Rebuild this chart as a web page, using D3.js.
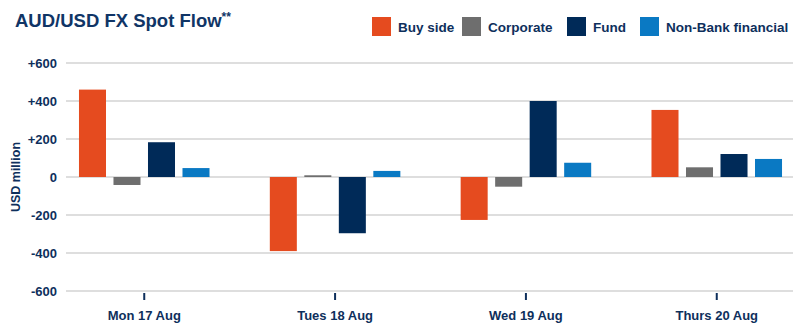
<!DOCTYPE html>
<html>
<head>
<meta charset="utf-8">
<script src="https://cdn.jsdelivr.net/npm/d3@7/dist/d3.min.js"></script>
<style>
  html, body { margin: 0; padding: 0; background: #ffffff; }
  svg { display: block; font-family: "Liberation Sans", Arial, Helvetica, sans-serif; }
</style>
</head>
<body>
<svg id="chart" width="800" height="336"></svg>
<script>
// ---- Data ----
const days = ["Mon 17 Aug", "Tues 18 Aug", "Wed 19 Aug", "Thurs 20 Aug"];
const series = ["Buy side", "Corporate", "Fund", "Non-Bank financial"];
const buySide = [460, -390, -226, 353];
const corporate = [-42, 9, -51, 51];
const fund = [183, -296, 400, 121];
const nonBank = [47, 32, 75, 95];
const yTicks = [600, 400, 200, 0, -200, -400, -600];
const yTickLabels = ["+600", "+400", "+200", "0", "-200", "-400", "-600"];
const colors = ["#E54B1F", "#6E6E6E", "#002A58", "#0A79C3"];

const values = [buySide, corporate, fund, nonBank];
const textColor = "#0E2F5C";

const svg = d3.select("#chart");
const plotLeft = 66, plotRight = 793, plotTop = 63, plotBottom = 291;

const x0 = d3.scaleBand().domain(days).range([plotLeft, 795]).paddingInner(0.316).paddingOuter(0.068);
const x1 = d3.scaleBand().domain(series).range([0, x0.bandwidth()]).paddingInner(0.217).paddingOuter(0);
const y = d3.scaleLinear().domain([-600, 600]).range([plotBottom, plotTop]);

// gridlines
svg.append("g").selectAll("line").data(yTicks).join("line")
  .attr("x1", plotLeft).attr("x2", plotRight)
  .attr("y1", d => y(d)).attr("y2", d => y(d))
  .attr("stroke", "#d3d3d3").attr("stroke-width", 1.5);

// y tick labels
svg.append("g").selectAll("text").data(yTicks).join("text")
  .attr("x", 57).attr("y", d => y(d)).attr("dy", "0.36em")
  .attr("text-anchor", "end")
  .attr("font-size", 13).attr("font-weight", "bold").attr("fill", textColor)
  .text((d, i) => yTickLabels[i]);

// y axis title
svg.append("text")
  .attr("transform", `translate(20,${y(0)}) rotate(-90)`)
  .attr("text-anchor", "middle")
  .attr("font-size", 12.5).attr("font-weight", "bold").attr("fill", textColor)
  .text("USD million");

// bars
const rows = [];
days.forEach((d, i) => series.forEach((s, j) => rows.push({day: d, s: s, j: j, v: values[j][i]})));
svg.append("g").selectAll("rect").data(rows).join("rect")
  .attr("x", d => x0(d.day) + x1(d.s))
  .attr("width", x1.bandwidth())
  .attr("y", d => y(Math.max(0, d.v)))
  .attr("height", d => Math.abs(y(d.v) - y(0)))
  .attr("fill", d => colors[d.j]);

// x axis ticks and labels
const xAxis = d3.axisBottom(x0).tickSize(0).tickPadding(0);
const gx = svg.append("g").attr("transform", `translate(0,${plotBottom})`).call(xAxis);
gx.select(".domain").remove();
gx.selectAll(".tick text").remove();
gx.selectAll(".tick").append("line")
  .attr("y1", 2).attr("y2", 9).attr("stroke", textColor).attr("stroke-width", 2);
gx.selectAll(".tick").append("text")
  .attr("y", 28.5).attr("text-anchor", "middle")
  .attr("font-size", 13).attr("font-weight", "bold").attr("fill", textColor)
  .attr("font-family", "Liberation Sans, Arial, sans-serif")
  .text(d => d);

// title
const title = svg.append("text").attr("x", 15).attr("y", 27)
  .attr("font-size", 18.5).attr("font-weight", "bold").attr("fill", "#103566");
title.append("tspan").text("AUD/USD FX Spot Flow");
title.append("tspan").attr("font-size", 12).attr("dy", -6).text("**");

// legend
const legendX = [372, 462, 567, 640];
const lg = svg.append("g").selectAll("g").data(series).join("g")
  .attr("transform", (d, i) => `translate(${legendX[i]},17)`);
lg.append("rect").attr("width", 19).attr("height", 19).attr("fill", (d, i) => colors[i]);
lg.append("text").attr("x", 26).attr("y", 14.5)
  .attr("font-size", 13.5).attr("font-weight", "bold").attr("fill", textColor)
  .text(d => d);
</script>
</body>
</html>
